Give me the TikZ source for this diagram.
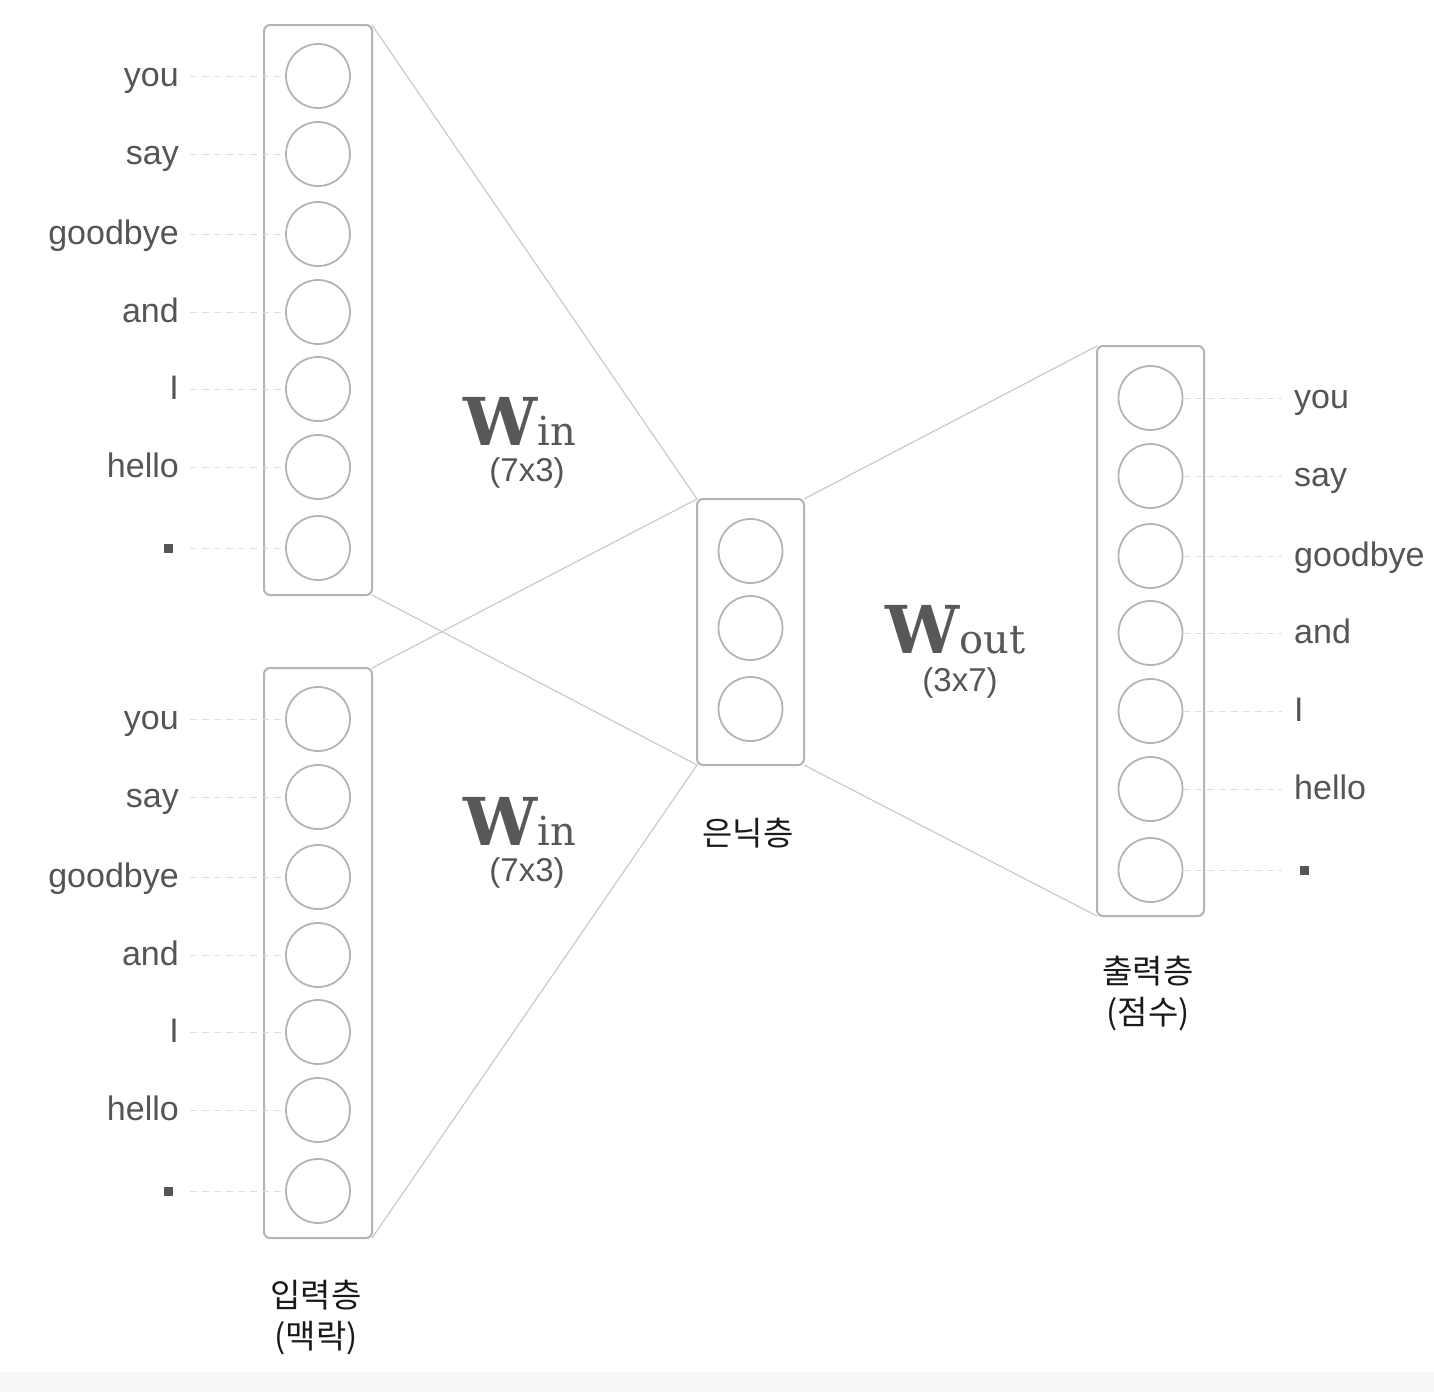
\documentclass[tikz,border=0pt]{standalone}
\usepackage{fontspec}
\setmainfont{Liberation Sans}
\newfontfamily\kr{Noto Sans CJK KR}
\newfontfamily\wfont{DejaVu Serif}
\usetikzlibrary{calc}
\definecolor{boxc}{HTML}{B4B4B4}
\definecolor{linec}{HTML}{CACACA}
\definecolor{dashc}{HTML}{DEDEDE}
\definecolor{txt}{HTML}{555555}
\definecolor{wc}{HTML}{585858}
\definecolor{krc}{HTML}{1A1A1A}
\definecolor{band}{HTML}{F6F7F9}
\begin{document}
\begin{tikzpicture}[x=1pt,y=-1pt,
  layer/.style={draw=boxc,line width=2pt,rounded corners=6pt,minimum width=108pt,inner sep=0pt,outer sep=0pt},
  unit/.style={circle,draw=boxc,line width=1.8pt,minimum size=64pt,inner sep=0pt},
  lbl/.style={font=\fontsize{34}{40}\selectfont,text=txt,inner sep=0pt},
  dotmark/.style={rectangle,fill=txt,minimum size=9pt,inner sep=0pt},
  guide/.style={draw=dashc,line width=1pt,dash pattern=on 7pt off 5pt},
  conn/.style={draw=linec,line width=1.2pt},
  kor/.style={font=\kr\fontsize{33}{41}\selectfont,text=krc,align=center,inner sep=0pt},
  dimlbl/.style={font=\fontsize{33}{38}\selectfont,text=txt,inner sep=0pt,text depth=0pt},
  wlbl/.style={text=wc,inner sep=0pt,text depth=0pt}
]
\useasboundingbox (0,0) rectangle (1434,1392);
\fill[band] (0,1372) rectangle (1434,1392);

% column coordinates
\coordinate (lx) at (179,0);
\coordinate (gx) at (190,0);
\coordinate (dx) at (168.5,0);
\coordinate (rx) at (1294,0);
\coordinate (rg) at (1282,0);
\coordinate (rdx) at (1304,0);

% layers
\node[layer,minimum height=570pt] (inA) at (318,310) {};
\node[layer,minimum height=570pt] (inB) at (318,953) {};
\node[layer,minimum height=266pt,minimum width=107pt] (hid) at (750.5,632) {};
\node[layer,minimum height=570pt,minimum width=107pt] (out) at (1150.5,631) {};

% units
\foreach \y [count=\i] in {76,154,234,312,389,467,548} \node[unit] (a\i) at (318,\y) {};
\foreach \y [count=\i] in {719,797,877,955,1032,1110,1191} \node[unit] (b\i) at (318,\y) {};
\foreach \y [count=\i] in {551,628,709} \node[unit] (h\i) at (750.5,\y) {};
\foreach \y [count=\i] in {398,476,556,633,711,789,870} \node[unit] (c\i) at (1150.5,\y) {};

% word labels
\foreach \w [count=\i] in {you,say,goodbye,and,I,hello} {
  \node[lbl,anchor=base east] (la\i) at ($(a\i -| lx)+(0,10)$) {\w};
  \node[lbl,anchor=base east] (lb\i) at ($(b\i -| lx)+(0,10)$) {\w};
  \node[lbl,anchor=base west] (lc\i) at ($(c\i -| rx)+(0,10)$) {\w};
}
\node[dotmark] (la7) at (a7 -| dx) {};
\node[dotmark] (lb7) at (b7 -| dx) {};
\node[dotmark] (lc7) at (c7 -| rdx) {};

% dashed guides
\foreach \i in {1,...,7} {
  \draw[guide] (a\i -| gx) -- (a\i.west);
  \draw[guide] (b\i -| gx) -- (b\i.west);
  \draw[guide] (c\i.east) -- (c\i -| rg);
}

% connectors
\draw[conn] (inA.north east) -- (hid.north west);
\draw[conn] (inA.south east) -- (hid.south west);
\draw[conn] (inB.north east) -- (hid.north west);
\draw[conn] (inB.south east) -- (hid.south west);
\draw[conn] (hid.north east) -- (out.north west);
\draw[conn] (hid.south east) -- (out.south west);

% weight labels
\node[wlbl,anchor=base west] (wA) at (463,445) {{\wfont\bfseries\fontsize{66}{66}\selectfont W}{\wfont\fontsize{40}{40}\selectfont in}};
\node[dimlbl,anchor=base] (dA) at (527,481) {(7x3)};
\node[wlbl,anchor=base west] (wB) at (463,845) {{\wfont\bfseries\fontsize{66}{66}\selectfont W}{\wfont\fontsize{40}{40}\selectfont in}};
\node[dimlbl,anchor=base] (dB) at (527,881) {(7x3)};
\node[wlbl,anchor=base west] (wC) at (885,653) {{\wfont\bfseries\fontsize{66}{66}\selectfont W}{\wfont\fontsize{40}{40}\selectfont out}};
\node[dimlbl,anchor=base] (dC) at (960,691) {(3x7)};

% layer captions
\node[kor] (capH) at (748,833) {은닉층};
\node[kor] (capIn) at (316,1318) {입력층\\(맥락)};
\node[kor] (capOut) at (1148,993) {출력층\\(점수)};
\end{tikzpicture}
\end{document}
